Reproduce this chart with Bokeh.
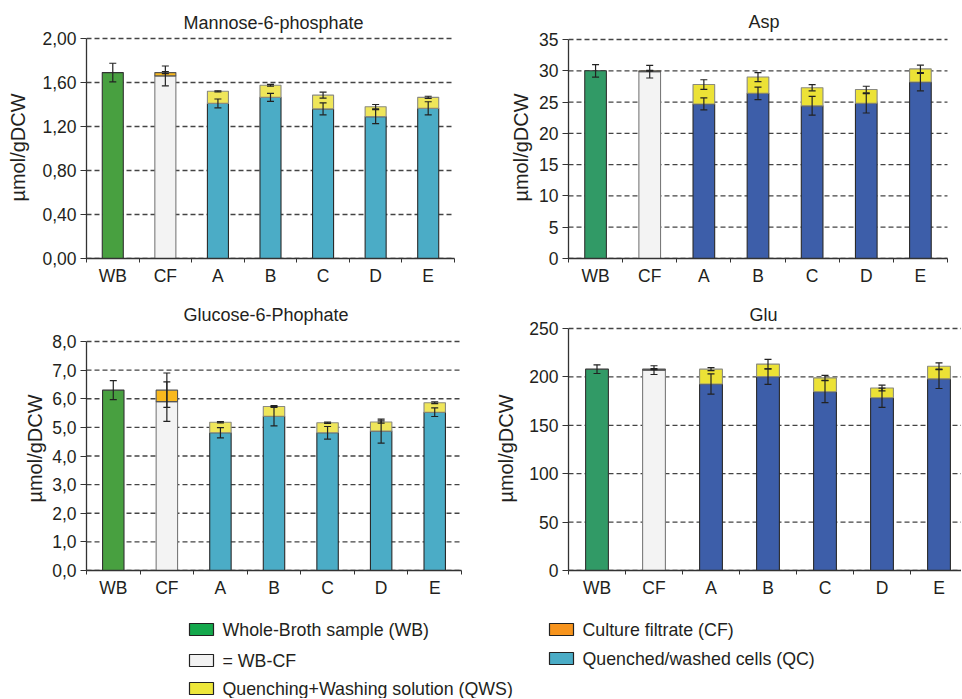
from bokeh.plotting import figure
from bokeh.models import (ColumnDataSource, Whisker, TeeHead, FixedTicker, Range1d,
                          CustomJSTickFormatter)
from bokeh.layouts import column, row
from bokeh.embed import file_html
from bokeh.resources import INLINE
from bokeh.core.properties import value

# ---------------- data ----------------
categories = ["WB", "CF", "A", "B", "C", "D", "E"]
y_label = "µmol/gDCW"

# Mannose-6-phosphate
m6p_title = "Mannose-6-phosphate"
m6p_wb, m6p_wb_err = 1.69, 0.085
m6p_wbcf, m6p_wbcf_err = 1.66, 0.09
m6p_cf, m6p_cf_err = 0.03, 0.01
m6p_qc = [1.41, 1.465, 1.36, 1.29, 1.365]
m6p_qc_err = [0.04, 0.036, 0.054, 0.063, 0.06]
m6p_qws = [0.11, 0.11, 0.125, 0.09, 0.10]
m6p_qws_err = [0.005, 0.008, 0.027, 0.02, 0.01]
m6p_ticks = [0.0, 0.4, 0.8, 1.2, 1.6, 2.0]

# Asp
asp_title = "Asp"
asp_wb, asp_wb_err = 30.0, 1.0
asp_wbcf, asp_wbcf_err = 29.85, 1.0
asp_cf, asp_cf_err = 0.15, 0.05
asp_qc = [24.7, 26.4, 24.4, 24.8, 28.2]
asp_qc_err = [0.96, 1.0, 1.5, 1.55, 1.4]
asp_qws = [3.1, 2.6, 2.9, 2.2, 2.1]
asp_qws_err = [0.77, 0.72, 0.5, 0.53, 0.59]
asp_ticks = [0, 5, 10, 15, 20, 25, 30, 35]

# Glucose-6-Phophate
g6p_title = "Glucose-6-Phophate"
g6p_wb, g6p_wb_err = 6.30, 0.33
g6p_wbcf, g6p_wbcf_err = 5.90, 0.69
g6p_cf, g6p_cf_err = 0.40, 0.60
g6p_qc = [4.81, 5.39, 4.81, 4.87, 5.53]
g6p_qc_err = [0.18, 0.34, 0.22, 0.42, 0.15]
g6p_qws = [0.37, 0.34, 0.35, 0.32, 0.33]
g6p_qws_err = [0.02, 0.03, 0.02, 0.04, 0.03]
g6p_ticks = [0, 1, 2, 3, 4, 5, 6, 7, 8]

# Glu
glu_title = "Glu"
glu_wb, glu_wb_err = 208.0, 4.5
glu_wbcf, glu_wbcf_err = 207.0, 4.5
glu_cf, glu_cf_err = 1.0, 0.5
glu_qc = [192.7, 200.3, 184.7, 178.5, 198.0]
glu_qc_err = [10.4, 8.0, 11.3, 10.0, 10.0]
glu_qws = [15.3, 12.9, 14.3, 10.0, 13.0]
glu_qws_err = [1.6, 5.0, 2.5, 3.0, 3.5]
glu_ticks = [0, 50, 100, 150, 200, 250]

legend_labels = ["Whole-Broth sample (WB)", "= WB-CF", "Quenching+Washing solution (QWS)",
                 "Culture filtrate (CF)", "Quenched/washed cells (QC)"]
legend_colors = ["#14a84c", "#f2f2f2", "#ede73a", "#f7941d", "#4aacc6"]

# ---------------- styling ----------------
FONT = "Liberation Sans"
TXT = "#231f20"
LEFT_COLORS = dict(wb="#48a040", wbcf="#f3f3f3", cf="#f8b81e", qc="#4bacc6", qws="#efe65a")
RIGHT_COLORS = dict(wb="#319a66", wbcf="#f3f3f3", cf="#f8b81e", qc="#3d5ea9", qws="#ece236")


def panel(title, wb, wb_err, wbcf, wbcf_err, cf, cf_err, qc, qc_err, qws, qws_err,
          ticks, decimals, colors, width, height, borders, x_end, y_end, x_bounds,
          grid_x1, title_offset, title_standoff, label_standoff):
    xs = list(range(1, len(categories) + 1))
    p = figure(width=width, height=height, output_backend="svg", toolbar_location=None,
               x_range=Range1d(0.5, x_end), y_range=Range1d(0, y_end),
               min_border_left=borders[0], min_border_right=borders[1],
               min_border_top=borders[2], min_border_bottom=borders[3],
               title=title)
    p.outline_line_color = None
    p.background_fill_color = "white"
    p.border_fill_color = "white"

    p.title.text_font = FONT
    p.title.text_font_size = "18px"
    p.title.text_font_style = "normal"
    p.title.text_color = TXT
    p.title.align = "left"
    p.title.offset = title_offset
    p.title.standoff = title_standoff

    # dashed horizontal grid lines at the y ticks
    g = p.segment(x0=0.5, x1=grid_x1, y0=ticks, y1=ticks, line_color="#444444",
                  line_dash="5 3", line_width=1.3)
    g.level = "underlay"

    bw = 0.4
    sx = xs[2:]
    tot = [a + b for a, b in zip(qc, qws)]
    # bars
    p.vbar(x=[xs[0]], bottom=0, top=[wb], width=bw, fill_color=colors["wb"],
           line_color="#333333", line_width=1.1)
    p.vbar(x=[xs[1]], bottom=0, top=[wbcf], width=bw, fill_color=colors["wbcf"],
           line_color="#7a7a7a", line_width=1.1)
    p.vbar(x=[xs[1]], bottom=[wbcf], top=[wbcf + cf], width=bw, fill_color=colors["cf"],
           line_color="#555555", line_width=1.1)
    p.vbar(x=sx, bottom=0, top=qc, width=bw, fill_color=colors["qc"],
           line_color="#2a2a2a", line_width=1.1)
    p.vbar(x=sx, bottom=qc, top=tot, width=bw, fill_color=colors["qws"],
           line_color="#8a8a80", line_width=1.1)

    # error bars
    bx = [xs[0], xs[1], xs[1]] + sx + sx
    centers = [wb, wbcf, wbcf + cf] + list(qc) + tot
    errs = [wb_err, wbcf_err, cf_err] + list(qc_err) + list(qws_err)
    src = ColumnDataSource(dict(x=bx, upper=[c + e for c, e in zip(centers, errs)],
                                lower=[c - e for c, e in zip(centers, errs)]))
    w = Whisker(base="x", upper="upper", lower="lower", source=src, level="overlay",
                line_color="#222222", line_width=1.2,
                upper_head=TeeHead(size=7, line_color="#222222", line_width=1.2),
                lower_head=TeeHead(size=7, line_color="#222222", line_width=1.2))
    p.add_layout(w)

    # x axis
    xa = p.xaxis[0]
    xa.ticker = FixedTicker(ticks=xs, minor_ticks=[x - 0.5 for x in xs] + [xs[-1] + 0.5])
    xa.major_label_overrides = {x: c for x, c in zip(xs, categories)}
    if x_bounds is not None:
        xa.bounds = x_bounds
    xa.major_tick_out = 0
    xa.major_tick_in = 0
    xa.minor_tick_out = 4
    xa.minor_tick_in = 0
    xa.minor_tick_line_color = "#333333"
    xa.axis_line_color = "#333333"
    xa.axis_line_width = 1.3
    xa.major_label_standoff = 3
    xa.major_label_text_font = FONT
    xa.major_label_text_font_size = "17.5px"
    xa.major_label_text_color = TXT

    # y axis
    ya = p.yaxis[0]
    ya.ticker = FixedTicker(ticks=ticks, minor_ticks=[])
    ya.bounds = (ticks[0], ticks[-1])
    ya.formatter = CustomJSTickFormatter(
        code="return tick.toFixed(%d).replace('.', ',');" % decimals)
    ya.major_tick_out = 6
    ya.major_tick_in = 0
    ya.minor_tick_out = 0
    ya.minor_tick_in = 0
    ya.major_tick_line_color = "#333333"
    ya.axis_line_color = "#333333"
    ya.axis_line_width = 1.3
    ya.major_label_standoff = 4
    ya.major_label_text_font = FONT
    ya.major_label_text_font_size = "17.5px"
    ya.major_label_text_color = TXT
    ya.axis_label = y_label
    ya.axis_label_text_font = FONT
    ya.axis_label_text_font_size = "20px"
    ya.axis_label_text_font_style = "normal"
    ya.axis_label_text_color = TXT
    ya.axis_label_standoff = label_standoff

    p.xgrid.grid_line_color = None
    p.ygrid.grid_line_color = None
    return p


# frames: column 1 spans x 86..461, column 2 spans x 568..961;
# row 1 spans y 36..258, row 2 spans y 326..570 (2px head-room above top tick)
p1_xend = 0.5 + (461 - 86) / 52.57
p2_xend = 0.5 + (961 - 568) / 54.14
p4_xend = 0.5 + (961 - 568) / 57.0
p1_yend = m6p_ticks[-1] * (258 - 36) / (258 - 38)
p2_yend = asp_ticks[-1] * (258 - 36) / (258 - 39)
p3_yend = g6p_ticks[-1] * (570 - 326) / (570 - 341)
p4_yend = glu_ticks[-1] * (570 - 326) / (570 - 328)

p1 = panel(m6p_title, m6p_wb, m6p_wb_err, m6p_wbcf, m6p_wbcf_err, m6p_cf, m6p_cf_err,
           m6p_qc, m6p_qc_err, m6p_qws, m6p_qws_err, m6p_ticks, 2, LEFT_COLORS,
           480, 290, (86, 19, 36, 32), p1_xend, p1_yend, (0.5, 7.5), 7.5,
           97, 8, 10)
p2 = panel(asp_title, asp_wb, asp_wb_err, asp_wbcf, asp_wbcf_err, asp_cf, asp_cf_err,
           asp_qc, asp_qc_err, asp_qws, asp_qws_err, asp_ticks, 0, RIGHT_COLORS,
           481, 290, (88, 0, 36, 32), p2_xend, p2_yend, (0.5, 7.5), 7.5,
           180, 10, 4)
p3 = panel(g6p_title, g6p_wb, g6p_wb_err, g6p_wbcf, g6p_wbcf_err, g6p_cf, g6p_cf_err,
           g6p_qc, g6p_qc_err, g6p_qws, g6p_qws_err, g6p_ticks, 1, LEFT_COLORS,
           480, 320, (86, 19, 36, 40), 7.5, p3_yend, (0.5, 7.5), 7.5,
           97, 3, 3)
p4 = panel(glu_title, glu_wb, glu_wb_err, glu_wbcf, glu_wbcf_err, glu_cf, glu_cf_err,
           glu_qc, glu_qc_err, glu_qws, glu_qws_err, glu_ticks, 0, RIGHT_COLORS,
           481, 320, (88, 0, 36, 40), p4_xend, p4_yend, None, p4_xend,
           181, 3, 9)

# ---------------- legend ----------------
LW, LH = 961, 88
leg = figure(width=LW, height=LH, output_backend="svg", toolbar_location=None,
             x_range=Range1d(0, LW), y_range=Range1d(LH, 0), min_border=0,
             x_axis_location=None, y_axis_location=None)
leg.outline_line_color = None
leg.xgrid.grid_line_color = None
leg.ygrid.grid_line_color = None
col_sw = [201, 561]
col_tx = [222, 582]
row_y = [[19, 50, 78], [19, 48]]
sw_x, sw_y, tx_x, tx_y = [], [], [], []
for c, rows in enumerate(row_y):
    for ry in rows:
        sw_x.append(col_sw[c]); sw_y.append(ry)
        tx_x.append(col_tx[c]); tx_y.append(ry)
leg.rect(x=sw_x, y=sw_y, width=24, height=12, fill_color=legend_colors,
         line_color="#222222", line_width=1.2)
leg.text(x=tx_x, y=tx_y, text=legend_labels, text_font=value(FONT),
         text_font_size=value("17.8px"), text_baseline="middle", text_align="left",
         text_color=TXT)

layout = column(row(p1, p2), row(p3, p4), leg)
open("out.html", "w").write(file_html(layout, INLINE))
